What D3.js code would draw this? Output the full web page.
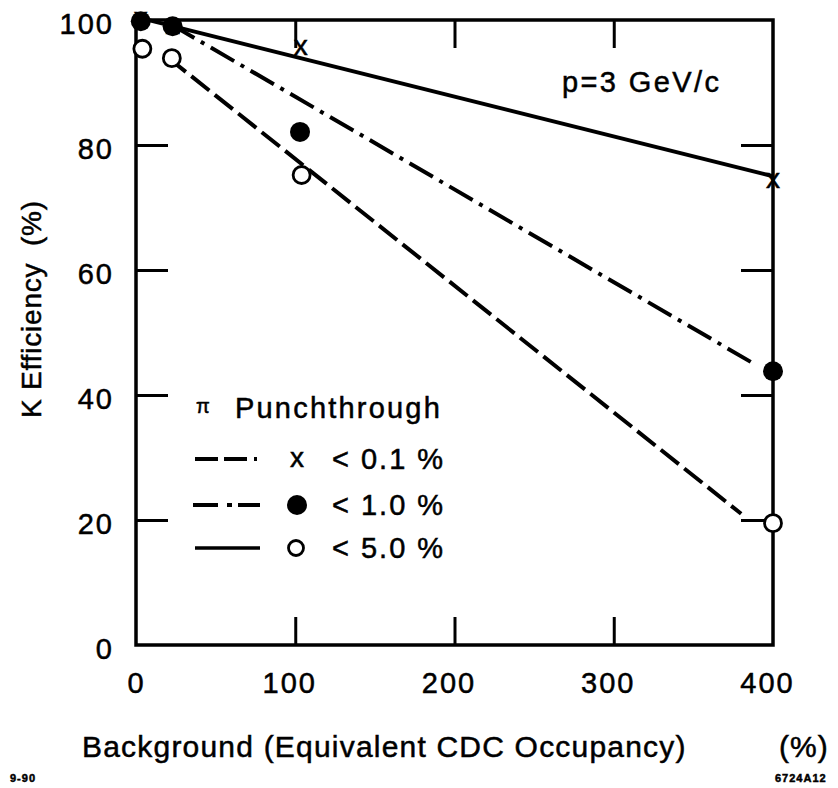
<!DOCTYPE html>
<html>
<head>
<meta charset="utf-8">
<script src="https://cdn.jsdelivr.net/npm/d3@7"></script>
<style>
  html, body { margin: 0; padding: 0; background: #fff; }
  svg { display: block; }
  text { font-family: "Liberation Sans", Arial, Helvetica, sans-serif; fill: #000; stroke: #000; stroke-width: 0.5px; }
</style>
</head>
<body>
<svg id="chart" width="838" height="788"></svg>
<script>
// Axis ranges and tick labels
const xDomain = [0, 400];
const yDomain = [0, 100];
const xTickValues = [0, 100, 200, 300, 400];
const yTickValues = [0, 20, 40, 60, 80, 100];

// Measured points: background occupancy (%) and K efficiency (%)
const crossBg  = [3, 23, 103.5, 400];
const crossEff = [100, 99, 95.5, 74.3];
const filledBg  = [3, 23, 103, 400];
const filledEff = [99.8, 99, 82.1, 43.8];
const openBg  = [4, 22.5, 104, 400];
const openEff = [95.4, 93.9, 75.2, 19.5];

// Straight-line trends drawn through each set
const solidBg  = [3, 400];
const solidEff = [100.3, 75];
const dashDotBg  = [22, 386];
const dashDotEff = [99.3, 45.3];
const dashedBg  = [20, 380];
const dashedEff = [94, 21];

// Legend entries
const legendTitle = "Punchthrough";
const legendLabels = ["< 0.1 %", "< 1.0 %", "< 5.0 %"];

const svg = d3.select("#chart");
svg.append("rect").attr("width", 838).attr("height", 788).attr("fill", "#fff");

const x = d3.scaleLinear().domain(xDomain).range([136, 773]);
const y = d3.scaleLinear().domain(yDomain).range([645, 20]);

const FS = 29;
const LS = "2px";

// Inward ticks on all four sides
const gL = svg.append("g").attr("transform", `translate(${x(0)},0)`)
  .call(d3.axisLeft(y).tickValues(yTickValues).tickSizeInner(-32).tickSizeOuter(0).tickPadding(22).tickFormat(d3.format("d")));
const gR = svg.append("g").attr("transform", `translate(${x(400)},0)`)
  .call(d3.axisRight(y).tickValues(yTickValues.filter(v => v > 0 && v < 100)).tickSizeInner(-32).tickSizeOuter(0).tickFormat(""));
const gB = svg.append("g").attr("transform", `translate(0,${y(0)})`)
  .call(d3.axisBottom(x).tickValues(xTickValues).tickSizeInner(-28).tickSizeOuter(0).tickPadding(27).tickFormat(d3.format("d")));
const gT = svg.append("g").attr("transform", `translate(0,${y(100)})`)
  .call(d3.axisTop(x).tickValues(xTickValues.filter(v => v > 0 && v < 400)).tickSizeInner(-28).tickSizeOuter(0).tickFormat(""));

[gL, gR, gB, gT].forEach(g => {
  g.select(".domain").remove();
  g.selectAll(".tick line").attr("stroke", "#000").attr("stroke-width", 3);
  g.selectAll(".tick text").attr("font-size", FS).attr("font-family", "Liberation Sans, Arial, sans-serif")
    .attr("letter-spacing", LS).attr("fill", "#000");
});
gL.selectAll(".tick line").filter(d => d === 0 || d === 100).remove();
gB.selectAll(".tick line").filter(d => d === 0 || d === 400).remove();
gL.selectAll(".tick text").attr("dy", "0.45em");
gB.selectAll(".tick text").attr("transform", d => d > 0 ? "translate(-6,0)" : null);

// Frame
svg.append("rect")
  .attr("x", x(0)).attr("y", y(100))
  .attr("width", x(400) - x(0)).attr("height", y(0) - y(100))
  .attr("fill", "none").attr("stroke", "#000").attr("stroke-width", 3.5);

// Trend lines
const line = d3.line().x(d => x(d[0])).y(d => y(d[1]));
const trends = [
  { bg: solidBg, eff: solidEff, dash: null },
  { bg: dashDotBg, eff: dashDotEff, dash: "27,7.5,4,7.5" },
  { bg: dashedBg, eff: dashedEff, dash: "23,7" }
];
trends.forEach(t => {
  svg.append("path")
    .attr("d", line(d3.zip(t.bg, t.eff)))
    .attr("fill", "none").attr("stroke", "#000").attr("stroke-width", 4)
    .attr("stroke-dasharray", t.dash);
});

// Markers
svg.append("g").selectAll("text").data(d3.zip(crossBg, crossEff)).join("text")
  .attr("x", d => x(d[0])).attr("y", d => y(d[1]))
  .attr("dy", "0.26em").attr("text-anchor", "middle")
  .attr("font-size", 28).text("x");
svg.append("g").selectAll("circle").data(d3.zip(openBg, openEff)).join("circle")
  .attr("cx", d => x(d[0])).attr("cy", d => y(d[1])).attr("r", 8.5)
  .attr("fill", "#fff").attr("stroke", "#000").attr("stroke-width", 2.8);
svg.append("g").selectAll("circle").data(d3.zip(filledBg, filledEff)).join("circle")
  .attr("cx", d => x(d[0])).attr("cy", d => y(d[1])).attr("r", 10)
  .attr("fill", "#000");

// Momentum annotation
svg.append("text").attr("x", 562).attr("y", 92).attr("font-size", FS)
  .attr("letter-spacing", "2.4px").text("p=3 GeV/c");

// Legend
const lg = svg.append("g");
lg.append("text").attr("x", 196).attr("y", 413).attr("font-size", 20).text("π");
lg.append("text").attr("x", 235).attr("y", 418).attr("font-size", FS)
  .attr("letter-spacing", "2.2px").text(legendTitle);
const rowY = [459, 505, 548];
const lx0 = 195, lx1 = 260;
// dashed sample with closing dot
lg.append("path").attr("d", d3.line()([[lx0, rowY[0]], [lx0 + 62, rowY[0]]]))
  .attr("stroke", "#000").attr("stroke-width", 4).attr("stroke-dasharray", "23,6,23,7,3,20");
lg.append("path").attr("d", d3.line()([[lx0 - 2, rowY[1]], [lx1 + 2, rowY[1]]]))
  .attr("stroke", "#000").attr("stroke-width", 4).attr("stroke-dasharray", "25,9,5,6,22,20");
lg.append("path").attr("d", d3.line()([[lx0, rowY[2]], [lx1, rowY[2]]]))
  .attr("stroke", "#000").attr("stroke-width", 3.5);
lg.append("text").attr("x", 297).attr("y", rowY[0]).attr("dy", "0.3em")
  .attr("text-anchor", "middle").attr("font-size", 28).text("x");
lg.append("circle").attr("cx", 297).attr("cy", rowY[1]).attr("r", 10).attr("fill", "#000");
lg.append("circle").attr("cx", 296).attr("cy", rowY[2]).attr("r", 7.5)
  .attr("fill", "#fff").attr("stroke", "#000").attr("stroke-width", 2.8);
legendLabels.forEach((s, i) => {
  lg.append("text").attr("x", 332).attr("y", rowY[i]).attr("dy", "0.36em")
    .attr("font-size", FS).attr("letter-spacing", LS).text(s);
});

// Axis titles
svg.append("text").attr("x", 82).attr("y", 757).attr("font-size", 30)
  .attr("letter-spacing", "1.2px").text("Background (Equivalent CDC Occupancy)");
svg.append("text").attr("x", 779).attr("y", 757).attr("font-size", 30)
  .attr("letter-spacing", "1px").text("(%)");
const yt = svg.append("g").attr("transform", "translate(41,0) rotate(-90)");
yt.append("text").attr("x", -418).attr("y", 0).attr("font-size", 28)
  .attr("letter-spacing", "0.8px").text("K Efficiency");
yt.append("text").attr("x", -246).attr("y", 0).attr("font-size", 28)
  .attr("letter-spacing", "0.8px").text("(%)");

// Figure codes
svg.append("text").attr("x", 10).attr("y", 782).attr("font-size", 11)
  .attr("font-weight", "bold").attr("letter-spacing", "1px").text("9-90");
svg.append("text").attr("x", 775).attr("y", 782).attr("font-size", 11)
  .attr("font-weight", "bold").attr("letter-spacing", "1px").text("6724A12");
</script>
</body>
</html>
